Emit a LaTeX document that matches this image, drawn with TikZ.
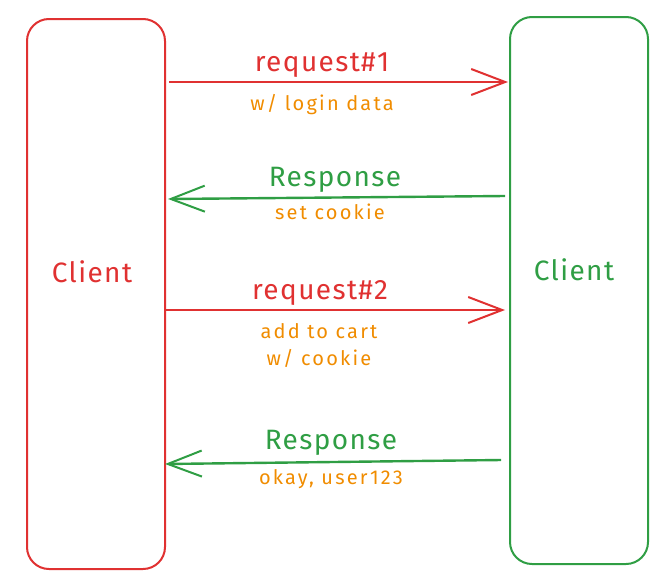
\documentclass[tikz,border=0pt]{standalone}
\usepackage{fontspec}
\setmainfont{Fira Sans}
\newfontfamily\titlefont[LetterSpace=5]{Fira Sans}
\newfontfamily\notefont[LetterSpace=11]{Fira Sans}
\usetikzlibrary{arrows.meta}
\definecolor{exred}{HTML}{E03131}
\definecolor{exgreen}{HTML}{2F9E44}
\definecolor{exorange}{HTML}{F08C00}
\tikzset{
  box/.style={draw, line width=2pt, rounded corners=22pt, anchor=north west, inner sep=0pt},
  conn/.style={line width=2.4pt, -{Straight Barb[length=34pt,width=26pt,line width=2pt]}},
  title/.style={font=\titlefont\fontsize{28}{30}\selectfont},
  note/.style={font=\notefont\fontsize{20}{27}\selectfont, text=exorange, align=center},
}
\begin{document}
\begin{tikzpicture}[x=1pt,y=-1pt]
\useasboundingbox (0,0) rectangle (668,581);
\node[box, draw=exred, minimum width=138pt, minimum height=550pt] (L) at (26,18) {};
\node[box, draw=exgreen, minimum width=138pt, minimum height=547pt] (R) at (509,16) {};
\node[title, text=exred] (lt) at (92,272) {Client};
\node[title, text=exgreen] (rt) at (574,270) {Client};

\coordinate (a1s) at (169,82); \coordinate (a1e) at (508,82);
\draw[conn, exred] (a1s) -- (a1e);
\node[title, text=exred] (l1) at (322,65) {request\#1};
\node[note] (n1) at (322,105) {w/ login data};

\coordinate (a2s) at (505,196); \coordinate (a2e) at (168,199);
\draw[conn, exgreen] (a2s) -- (a2e);
\node[title, text=exgreen] (l2) at (335,180) {Response};
\node[note] (n2) at (330,212) {set cookie};

\coordinate (a3s) at (165,310); \coordinate (a3e) at (505,310);
\draw[conn, exred] (a3s) -- (a3e);
\node[title, text=exred] (l3) at (320,293) {request\#2};
\node[note] (n3) at (319,346) {add to cart\\w/ cookie};

\coordinate (a4s) at (501,460); \coordinate (a4e) at (165,464);
\draw[conn, exgreen] (a4s) -- (a4e);
\node[title, text=exgreen] (l4) at (331,443) {Response};
\node[note] (n4) at (331,479) {okay, user123};
\end{tikzpicture}
\end{document}
